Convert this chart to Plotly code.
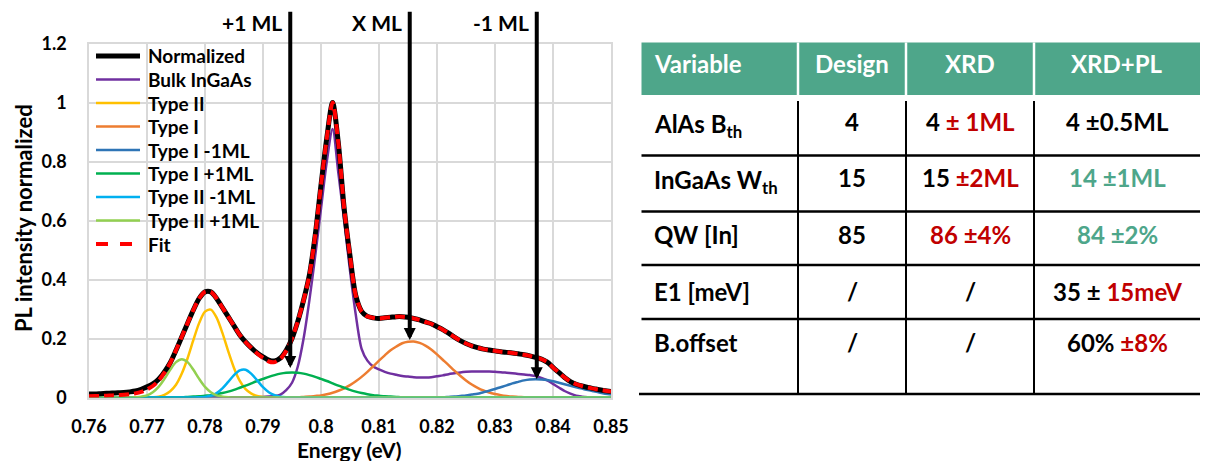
import plotly.graph_objects as go

# ---------------- PL spectrum data (energy in eV) ----------------
energy = [
    0.760, 0.761, 0.762, 0.763, 0.764, 0.765, 0.766, 0.767, 0.768, 0.769,
    0.770, 0.771, 0.772, 0.773, 0.774, 0.775, 0.776, 0.777, 0.778, 0.779,
    0.780, 0.781, 0.782, 0.783, 0.784, 0.785, 0.786, 0.787, 0.788, 0.789,
    0.790, 0.791, 0.792, 0.793, 0.794, 0.795, 0.796, 0.797, 0.798, 0.799,
    0.800, 0.801, 0.802, 0.803, 0.804, 0.805, 0.806, 0.807, 0.808, 0.809,
    0.810, 0.811, 0.812, 0.813, 0.814, 0.815, 0.816, 0.817, 0.818, 0.819,
    0.820, 0.821, 0.822, 0.823, 0.824, 0.825, 0.826, 0.827, 0.828, 0.829,
    0.830, 0.831, 0.832, 0.833, 0.834, 0.835, 0.836, 0.837, 0.838, 0.839,
    0.840, 0.841, 0.842, 0.843, 0.844, 0.845, 0.846, 0.847, 0.848, 0.849,
    0.850,
]

normalized = [
    0.012, 0.012, 0.013, 0.014, 0.015, 0.016, 0.017, 0.019, 0.022, 0.028,
    0.036, 0.046, 0.062, 0.087, 0.118, 0.160, 0.206, 0.252, 0.297, 0.336,
    0.358, 0.358, 0.336, 0.305, 0.274, 0.243, 0.212, 0.188, 0.168, 0.151,
    0.138, 0.127, 0.124, 0.134, 0.160, 0.200, 0.258, 0.330, 0.415, 0.550,
    0.720, 0.880, 1.000, 0.860, 0.640, 0.480, 0.345, 0.292, 0.275, 0.270,
    0.268, 0.270, 0.272, 0.274, 0.274, 0.272, 0.268, 0.263, 0.256, 0.250,
    0.240, 0.230, 0.218, 0.205, 0.193, 0.183, 0.175, 0.169, 0.164, 0.161,
    0.158, 0.155, 0.153, 0.151, 0.148, 0.145, 0.141, 0.136, 0.130, 0.120,
    0.102, 0.085, 0.068, 0.054, 0.045, 0.039, 0.034, 0.030, 0.026, 0.023,
    0.020,
]

fit = [
    0.004, 0.005, 0.005, 0.006, 0.007, 0.008, 0.009, 0.011, 0.014, 0.019,
    0.027, 0.039, 0.057, 0.084, 0.117, 0.160, 0.206, 0.252, 0.297, 0.336,
    0.358, 0.358, 0.336, 0.305, 0.274, 0.243, 0.212, 0.188, 0.168, 0.149,
    0.134, 0.122, 0.120, 0.131, 0.158, 0.200, 0.258, 0.330, 0.415, 0.550,
    0.720, 0.880, 1.000, 0.860, 0.640, 0.480, 0.345, 0.292, 0.275, 0.270,
    0.268, 0.270, 0.272, 0.274, 0.274, 0.272, 0.268, 0.263, 0.256, 0.250,
    0.240, 0.230, 0.218, 0.205, 0.193, 0.183, 0.175, 0.169, 0.164, 0.161,
    0.158, 0.155, 0.153, 0.151, 0.148, 0.145, 0.141, 0.136, 0.130, 0.120,
    0.102, 0.085, 0.068, 0.054, 0.045, 0.039, 0.034, 0.030, 0.026, 0.023,
    0.020,
]

bulk_ingaas = [
    0.000, 0.000, 0.000, 0.000, 0.000, 0.000, 0.000, 0.000, 0.000, 0.000,
    0.000, 0.000, 0.000, 0.000, 0.000, 0.000, 0.000, 0.000, 0.000, 0.000,
    0.000, 0.000, 0.000, 0.000, 0.000, 0.000, 0.000, 0.000, 0.000, 0.001,
    0.002, 0.003, 0.005, 0.010, 0.025, 0.050, 0.105, 0.200, 0.330, 0.480,
    0.640, 0.800, 0.910, 0.760, 0.600, 0.430, 0.280, 0.165, 0.125, 0.105,
    0.095, 0.087, 0.081, 0.077, 0.073, 0.071, 0.069, 0.068, 0.068, 0.069,
    0.072, 0.075, 0.079, 0.082, 0.085, 0.087, 0.088, 0.088, 0.088, 0.088,
    0.087, 0.086, 0.084, 0.082, 0.080, 0.078, 0.076, 0.073, 0.066, 0.058,
    0.046, 0.034, 0.022, 0.013, 0.006, 0.003, 0.001, 0.000, 0.000, 0.000,
    0.000,
]

type_ii = [
    0.000, 0.000, 0.000, 0.000, 0.000, 0.000, 0.000, 0.000, 0.000, 0.000,
    0.000, 0.001, 0.003, 0.009, 0.021, 0.043, 0.081, 0.133, 0.195, 0.253,
    0.291, 0.298, 0.271, 0.219, 0.157, 0.100, 0.056, 0.028, 0.013, 0.005,
    0.002, 0.001, 0.000, 0.000, 0.000, 0.000, 0.000, 0.000, 0.000, 0.000,
    0.000, 0.000, 0.000, 0.000, 0.000, 0.000, 0.000, 0.000, 0.000, 0.000,
    0.000, 0.000, 0.000, 0.000, 0.000, 0.000, 0.000, 0.000, 0.000, 0.000,
    0.000, 0.000, 0.000, 0.000, 0.000, 0.000, 0.000, 0.000, 0.000, 0.000,
    0.000, 0.000, 0.000, 0.000, 0.000, 0.000, 0.000, 0.000, 0.000, 0.000,
    0.000, 0.000, 0.000, 0.000, 0.000, 0.000, 0.000, 0.000, 0.000, 0.000,
    0.000,
]

type_i = [
    0.000, 0.000, 0.000, 0.000, 0.000, 0.000, 0.000, 0.000, 0.000, 0.000,
    0.000, 0.000, 0.000, 0.000, 0.000, 0.000, 0.000, 0.000, 0.000, 0.000,
    0.000, 0.000, 0.000, 0.000, 0.000, 0.000, 0.000, 0.000, 0.000, 0.000,
    0.000, 0.000, 0.000, 0.000, 0.000, 0.001, 0.001, 0.002, 0.003, 0.005,
    0.007, 0.011, 0.016, 0.023, 0.031, 0.042, 0.055, 0.070, 0.087, 0.106,
    0.125, 0.143, 0.160, 0.173, 0.184, 0.189, 0.190, 0.185, 0.176, 0.163,
    0.146, 0.128, 0.110, 0.091, 0.074, 0.058, 0.044, 0.033, 0.024, 0.017,
    0.012, 0.008, 0.005, 0.003, 0.002, 0.001, 0.000, 0.000, 0.000, 0.000,
    0.000, 0.000, 0.000, 0.000, 0.000, 0.000, 0.000, 0.000, 0.000, 0.000,
    0.000,
]

type_i_minus1 = [
    0.000, 0.000, 0.000, 0.000, 0.000, 0.000, 0.000, 0.000, 0.000, 0.000,
    0.000, 0.000, 0.000, 0.000, 0.000, 0.000, 0.000, 0.000, 0.000, 0.000,
    0.000, 0.000, 0.000, 0.000, 0.000, 0.000, 0.000, 0.000, 0.000, 0.000,
    0.000, 0.000, 0.000, 0.000, 0.000, 0.000, 0.000, 0.000, 0.000, 0.000,
    0.000, 0.000, 0.000, 0.000, 0.000, 0.000, 0.000, 0.000, 0.000, 0.000,
    0.000, 0.000, 0.000, 0.000, 0.000, 0.000, 0.000, 0.000, 0.000, 0.000,
    0.001, 0.001, 0.002, 0.003, 0.005, 0.007, 0.010, 0.013, 0.018, 0.023,
    0.029, 0.035, 0.041, 0.048, 0.053, 0.058, 0.061, 0.062, 0.061, 0.059,
    0.055, 0.050, 0.045, 0.040, 0.035, 0.030, 0.025, 0.021, 0.017, 0.013,
    0.010,
]

type_i_plus1 = [
    0.000, 0.000, 0.000, 0.000, 0.000, 0.000, 0.000, 0.000, 0.000, 0.000,
    0.000, 0.000, 0.000, 0.000, 0.000, 0.001, 0.001, 0.002, 0.003, 0.004,
    0.006, 0.008, 0.011, 0.015, 0.020, 0.026, 0.033, 0.040, 0.048, 0.056,
    0.063, 0.070, 0.076, 0.081, 0.084, 0.085, 0.084, 0.081, 0.076, 0.070,
    0.063, 0.056, 0.048, 0.040, 0.033, 0.026, 0.020, 0.015, 0.011, 0.008,
    0.006, 0.004, 0.003, 0.002, 0.001, 0.001, 0.000, 0.000, 0.000, 0.000,
    0.000, 0.000, 0.000, 0.000, 0.000, 0.000, 0.000, 0.000, 0.000, 0.000,
    0.000, 0.000, 0.000, 0.000, 0.000, 0.000, 0.000, 0.000, 0.000, 0.000,
    0.000, 0.000, 0.000, 0.000, 0.000, 0.000, 0.000, 0.000, 0.000, 0.000,
    0.000,
]

type_ii_minus1 = [
    0.000, 0.000, 0.000, 0.000, 0.000, 0.000, 0.000, 0.000, 0.000, 0.000,
    0.000, 0.000, 0.000, 0.000, 0.000, 0.000, 0.000, 0.000, 0.000, 0.001,
    0.002, 0.006, 0.015, 0.031, 0.053, 0.076, 0.092, 0.094, 0.080, 0.058,
    0.035, 0.018, 0.008, 0.003, 0.001, 0.000, 0.000, 0.000, 0.000, 0.000,
    0.000, 0.000, 0.000, 0.000, 0.000, 0.000, 0.000, 0.000, 0.000, 0.000,
    0.000, 0.000, 0.000, 0.000, 0.000, 0.000, 0.000, 0.000, 0.000, 0.000,
    0.000, 0.000, 0.000, 0.000, 0.000, 0.000, 0.000, 0.000, 0.000, 0.000,
    0.000, 0.000, 0.000, 0.000, 0.000, 0.000, 0.000, 0.000, 0.000, 0.000,
    0.000, 0.000, 0.000, 0.000, 0.000, 0.000, 0.000, 0.000, 0.000, 0.000,
    0.000,
]

type_ii_plus1 = [
    0.000, 0.000, 0.000, 0.000, 0.000, 0.000, 0.000, 0.000, 0.001, 0.003,
    0.007, 0.018, 0.036, 0.063, 0.094, 0.120, 0.130, 0.120, 0.094, 0.063,
    0.036, 0.018, 0.007, 0.003, 0.001, 0.000, 0.000, 0.000, 0.000, 0.000,
    0.000, 0.000, 0.000, 0.000, 0.000, 0.000, 0.000, 0.000, 0.000, 0.000,
    0.000, 0.000, 0.000, 0.000, 0.000, 0.000, 0.000, 0.000, 0.000, 0.000,
    0.000, 0.000, 0.000, 0.000, 0.000, 0.000, 0.000, 0.000, 0.000, 0.000,
    0.000, 0.000, 0.000, 0.000, 0.000, 0.000, 0.000, 0.000, 0.000, 0.000,
    0.000, 0.000, 0.000, 0.000, 0.000, 0.000, 0.000, 0.000, 0.000, 0.000,
    0.000, 0.000, 0.000, 0.000, 0.000, 0.000, 0.000, 0.000, 0.000, 0.000,
    0.000,
]

# Monolayer markers: label, energy of the arrow, height of the arrow tip
ml_labels = ["+1 ML", "X ML", "-1 ML"]
ml_energy = [0.7947, 0.8153, 0.8372]
ml_tip = [0.100, 0.195, 0.062]

x_tick_vals = [0.76, 0.77, 0.78, 0.79, 0.80, 0.81, 0.82, 0.83, 0.84, 0.85]
x_tick_text = ["0.76", "0.77", "0.78", "0.79", "0.8", "0.81", "0.82", "0.83", "0.84", "0.85"]
y_tick_vals = [0, 0.2, 0.4, 0.6, 0.8, 1.0, 1.2]
y_tick_text = ["0", "0.2", "0.4", "0.6", "0.8", "1", "1.2"]

# ---------------- Parameter table ----------------
RED = "#C00000"
TEAL = "#4EA68A"

table_header = ["Variable", "Design", "XRD", "XRD+PL"]
row_labels = ["AlAs B<sub>th</sub>", "InGaAs W<sub>th</sub>", "QW [In]", "E1 [meV]", "B.offset"]
design_col = ["4", "15", "85", "/", "/"]
xrd_col = [
    f'4 <span style="color:{RED}">± 1ML</span>',
    f'15 <span style="color:{RED}">±2ML</span>',
    f'<span style="color:{RED}">86 ±4%</span>',
    "/",
    "/",
]
xrd_pl_col = [
    "4 ±0.5ML",
    f'<span style="color:{TEAL}">14 ±1ML</span>',
    f'<span style="color:{TEAL}">84 ±2%</span>',
    f'35 ± <span style="color:{RED}">15meV</span>',
    f'60% <span style="color:{RED}">±8%</span>',
]

# ---------------- Figure ----------------
W, H = 1205, 461
FONT = "Lato"
GRID = "#D9D9D9"


def px_x(x):
    return x / W


def px_y(y):
    return 1 - y / H


fig = go.Figure()

# (name, values, colour, line width, dash)
series = [
    ("Normalized", normalized, "black", 5, "solid"),
    ("Bulk InGaAs", bulk_ingaas, "#7030A0", 2.5, "solid"),
    ("Type II", type_ii, "#FFC000", 2.5, "solid"),
    ("Type I", type_i, "#ED7D31", 2.5, "solid"),
    ("Type I -1ML", type_i_minus1, "#2E75B6", 2.5, "solid"),
    ("Type I +1ML", type_i_plus1, "#00B050", 2.5, "solid"),
    ("Type II -1ML", type_ii_minus1, "#00B0F0", 2.5, "solid"),
    ("Type II +1ML", type_ii_plus1, "#92D050", 2.5, "solid"),
    ("Fit", fit, "#FF0000", 4, "10px,5px"),
]

# components first, then the measured curve, then the fit on top
draw_order = series[1:8] + [series[0], series[8]]
for name, vals, color, width, dash in draw_order:
    fig.add_trace(go.Scatter(
        x=energy, y=vals, name=name, mode="lines", showlegend=False,
        line=dict(color=color, width=width, dash=dash, shape="spline", smoothing=0.8),
    ))

shapes = []
annotations = []

# Legend block in the upper-left corner of the plot
LEG_X0, LEG_X1, LEG_TXT = 96, 140, 146
LEG_Y0, LEG_DY = 56, 23.5
for k, (name, vals, color, width, dash) in enumerate(series):
    yy = LEG_Y0 + k * LEG_DY
    shapes.append(dict(
        type="line", xref="paper", yref="paper",
        x0=px_x(LEG_X0), x1=px_x(LEG_X1), y0=px_y(yy), y1=px_y(yy),
        line=dict(color=color, width=width, dash="dash" if dash != "solid" else "solid"),
        layer="above",
    ))
    annotations.append(dict(
        x=px_x(LEG_TXT), y=px_y(yy), xref="paper", yref="paper",
        text=f"<b>{name}</b>", showarrow=False, xanchor="left", yanchor="middle",
        font=dict(family=FONT, size=19, color="black"),
    ))

# Arrows marking the monolayer-shifted transitions
for lab, e, tip in zip(ml_labels, ml_energy, ml_tip):
    annotations.append(dict(
        x=e, y=tip, xref="x", yref="y",
        ax=e, ay=1.313, axref="x", ayref="y",
        text="", showarrow=True, arrowhead=2, arrowsize=0.6,
        arrowwidth=4, arrowcolor="black",
    ))
    annotations.append(dict(
        x=e, y=px_y(22), xref="x", yref="paper",
        text=f"<b>{lab}</b>", showarrow=False, xanchor="right", yanchor="middle",
        xshift=-6, font=dict(family=FONT, size=21, color="black"),
    ))

# Axis titles
annotations.append(dict(
    x=px_x(349), y=px_y(449), xref="paper", yref="paper",
    text="<b>Energy (eV)</b>", showarrow=False, xanchor="center", yanchor="middle",
    font=dict(family=FONT, size=21, color="black"),
))
annotations.append(dict(
    x=px_x(23), y=px_y(218), xref="paper", yref="paper",
    text="<b>PL intensity normalized</b>", showarrow=False, textangle=-90,
    xanchor="center", yanchor="middle",
    font=dict(family=FONT, size=22, color="black"),
))

# Table geometry (pixels)
tbl_left, tbl_right = 641.5, 1200
hdr_top, hdr_bot = 42.5, 95
col_sep = [798, 906, 1034]
row_sep = [155.5, 211.5, 265, 319]
tbl_bottom = 394
col_centers = [852, 970, 1117]
row_centers = [122, 177, 234, 291, 342]

shapes.append(dict(
    type="rect", xref="paper", yref="paper",
    x0=px_x(tbl_left), x1=px_x(tbl_right), y0=px_y(hdr_bot), y1=px_y(hdr_top),
    fillcolor=TEAL, line=dict(width=0), layer="above",
))
for cx in col_sep:
    shapes.append(dict(
        type="line", xref="paper", yref="paper",
        x0=px_x(cx), x1=px_x(cx), y0=px_y(hdr_bot), y1=px_y(hdr_top),
        line=dict(color="white", width=2.5), layer="above",
    ))
    shapes.append(dict(
        type="line", xref="paper", yref="paper",
        x0=px_x(cx), x1=px_x(cx), y0=px_y(tbl_bottom), y1=px_y(101),
        line=dict(color="black", width=2), layer="above",
    ))
for ry in row_sep:
    shapes.append(dict(
        type="line", xref="paper", yref="paper",
        x0=px_x(tbl_left), x1=px_x(tbl_right), y0=px_y(ry), y1=px_y(ry),
        line=dict(color="black", width=2.5), layer="above",
    ))
shapes.append(dict(
    type="line", xref="paper", yref="paper",
    x0=px_x(639), x1=px_x(tbl_right), y0=px_y(tbl_bottom), y1=px_y(tbl_bottom),
    line=dict(color="black", width=2.5), layer="above",
))

TBL_SIZE = 24
# Header
annotations.append(dict(
    x=px_x(652), y=px_y(64), xref="paper", yref="paper",
    text=f"<b>{table_header[0]}</b>", showarrow=False, xanchor="left", yanchor="middle",
    font=dict(family=FONT, size=TBL_SIZE, color="white"),
))
for cx, txt in zip(col_centers, table_header[1:]):
    annotations.append(dict(
        x=px_x(cx), y=px_y(64), xref="paper", yref="paper",
        text=f"<b>{txt}</b>", showarrow=False, xanchor="center", yanchor="middle",
        font=dict(family=FONT, size=TBL_SIZE, color="white"),
    ))
# Body
for i, ry in enumerate(row_centers):
    annotations.append(dict(
        x=px_x(652), y=px_y(ry), xref="paper", yref="paper",
        text=f"<b>{row_labels[i]}</b>", showarrow=False, xanchor="left",
        yanchor="middle", font=dict(family=FONT, size=TBL_SIZE, color="black"),
        yshift=-4 if "<sub>" in row_labels[i] else 0,
    ))
    for cx, col in zip(col_centers, [design_col, xrd_col, xrd_pl_col]):
        annotations.append(dict(
            x=px_x(cx), y=px_y(ry), xref="paper", yref="paper",
            text=f"<b>{col[i]}</b>", showarrow=False, xanchor="center",
            yanchor="middle", font=dict(family=FONT, size=TBL_SIZE, color="black"),
        ))

fig.update_layout(
    width=W, height=H,
    margin=dict(l=0, r=0, t=0, b=0),
    paper_bgcolor="white", plot_bgcolor="white",
    font=dict(family=FONT, color="black"),
    showlegend=False,
    xaxis=dict(
        domain=[px_x(89), px_x(611)], range=[0.76, 0.85],
        tickvals=x_tick_vals, ticktext=x_tick_text, automargin=False,
        showgrid=True, gridcolor=GRID, gridwidth=1.5,
        showline=True, linecolor=GRID, linewidth=1.5, mirror=True,
        zeroline=False, ticks="", ticklabelstandoff=12,
        tickfont=dict(family=FONT, size=18, color="black", weight="bold"),
    ),
    yaxis=dict(
        domain=[px_y(397.5), px_y(43.5)], range=[0, 1.2],
        tickvals=y_tick_vals, ticktext=y_tick_text, automargin=False,
        showgrid=True, gridcolor=GRID, gridwidth=1.5,
        showline=True, linecolor=GRID, linewidth=1.5, mirror=True,
        zeroline=False, ticks="", ticklabelstandoff=17,
        tickfont=dict(family=FONT, size=18, color="black", weight="bold"),
    ),
    shapes=shapes,
    annotations=annotations,
)

fig.write_html("out.html", config={"displayModeBar": False})
